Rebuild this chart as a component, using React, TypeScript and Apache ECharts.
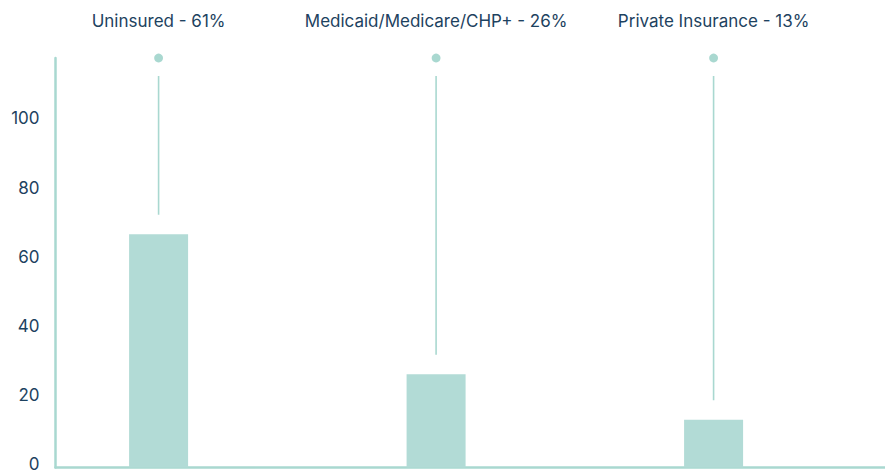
import React, { useEffect, useRef } from "react";
import * as echarts from "echarts";

const categories = ["Uninsured - 61%", "Medicaid/Medicare/CHP+ - 26%", "Private Insurance - 13%"];
const barValues = [67.5, 27, 13.8];
const yTicks = [0, 20, 40, 60, 80, 100];

const TEAL = "#b2dbd6";
const AXIS = "#a9d8d0";
const NAVY = "#1d4260";
const Y_MAX = 118.5;

export default function App() {
  const ref = useRef<HTMLDivElement>(null);
  useEffect(() => {
    document.body.style.margin = "0";
    const chart = echarts.init(ref.current!, null, { renderer: "svg" });
    const indexed = barValues.map((v, i) => [i, v]);
    chart.setOption({
      animation: false,
      backgroundColor: "#ffffff",
      grid: { left: 55.5, right: 0, top: 58, bottom: 3.5, containLabel: false, outerBoundsMode: "none" },
      xAxis: {
        type: "value",
        min: -0.3715,
        max: 2.6177,
        axisLine: { show: true, onZero: false, lineStyle: { color: AXIS, width: 2.5 } },
        axisTick: { show: false },
        axisLabel: { show: false },
        splitLine: { show: false },
      },
      yAxis: {
        type: "value",
        min: yTicks[0],
        max: Y_MAX,
        interval: 20,
        axisLine: { show: true, onZero: false, lineStyle: { color: AXIS, width: 2.5 } },
        axisTick: { show: false },
        splitLine: { show: false },
        axisLabel: {
          showMaxLabel: false,
          color: NAVY,
          fontFamily: "Inter",
          fontSize: 17,
          margin: 16,
          verticalAlign: "bottom",
          lineHeight: 7,
          formatter: (v: number) => (yTicks.includes(v) ? String(v) : ""),
        },
      },
      series: [
        {
          type: "bar",
          data: indexed,
          barWidth: 59,
          itemStyle: { color: TEAL },
          z: 2,
        },
        {
          type: "custom",
          data: indexed,
          z: 3,
          renderItem: (params: any, api: any) => {
            const i = api.value(0);
            const v = api.value(1);
            const top = api.coord([i, Y_MAX]);
            const bar = api.coord([i, v]);
            return {
              type: "group",
              children: [
                {
                  type: "circle",
                  shape: { cx: top[0], cy: top[1], r: 4.4 },
                  style: { fill: AXIS },
                },
                {
                  type: "line",
                  shape: { x1: top[0], y1: top[1] + 18, x2: top[0], y2: bar[1] - 19.5 },
                  style: { stroke: AXIS, lineWidth: 1.6 },
                },
                {
                  type: "text",
                  x: top[0],
                  y: top[1] - 37,
                  style: {
                    text: categories[params.dataIndex],
                    fill: NAVY,
                    fontFamily: "Inter",
                    fontSize: 17,
                    align: "center",
                    verticalAlign: "middle",
                  },
                },
              ],
            };
          },
        },
      ],
    });
    return () => chart.dispose();
  }, []);
  return <div ref={ref} style={{ width: 885, height: 471 }} />;
}
